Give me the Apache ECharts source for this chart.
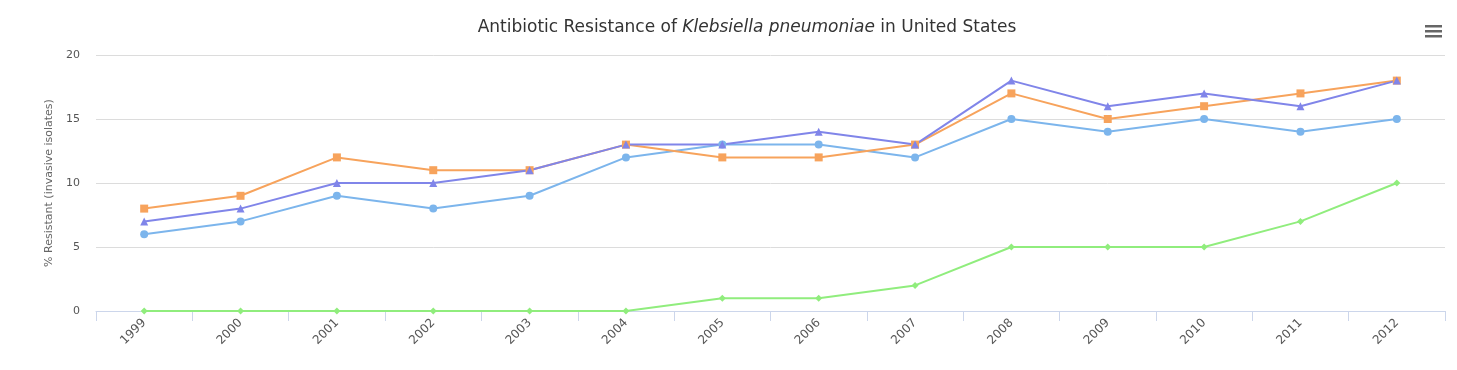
<!DOCTYPE html>
<html><head><meta charset="utf-8">
<script src="https://cdn.jsdelivr.net/npm/echarts@6/dist/echarts.min.js"></script>
<style>html,body{margin:0;padding:0;background:#fff}#c{width:1457px;height:370px}</style>
</head><body><div id="c"></div>
<script>
const categories = ['1999','2000','2001','2002','2003','2004','2005','2006','2007','2008','2009','2010','2011','2012'];
const blueSeries   = [6, 7, 9, 8, 9, 12, 13, 13, 12, 15, 14, 15, 14, 15];
const greenSeries  = [0, 0, 0, 0, 0, 0, 1, 1, 2, 5, 5, 5, 7, 10];
const orangeSeries = [8, 9, 12, 11, 11, 13, 12, 12, 13, 17, 15, 16, 17, 18];
const purpleSeries = [7, 8, 10, 10, 11, 13, 13, 14, 13, 18, 16, 17, 16, 18];
const yTicks = [0, 5, 10, 15, 20];

const FONT = '"DejaVu Sans", sans-serif';
const chart = echarts.init(document.getElementById('c'));
function mk(data, color, symbol, size) {
  return {type:'line', data, symbol, symbolSize:size, showAllSymbol:true,
    lineStyle:{color, width:2}, itemStyle:{color, borderWidth:0}, animation:false};
}
chart.setOption({
  animation:false,
  title:{text:'{n|Antibiotic Resistance of }{i|Klebsiella pneumoniae}{n| in United States}', left:742, top:14, textAlign:'center',
    textStyle:{rich:{n:{fontFamily:FONT,fontSize:17,color:'#333',fontWeight:'normal'}, i:{fontFamily:FONT,fontSize:17,color:'#333',fontStyle:'italic',fontWeight:'normal'}}}},
  grid:{left:96, right:12, top:55, bottom:59},
  xAxis:{type:'category', data:categories, boundaryGap:true,
    axisLine:{lineStyle:{color:'#ccd6eb'}}, axisTick:{show:true, length:10, lineStyle:{color:'#ccd6eb'}},
    axisLabel:{rotate:45, margin:10, fontFamily:FONT, fontSize:12, color:'#555'}},
  yAxis:{type:'value', min:0, max:20, interval:5,
    name:'% Resistant (invasive isolates)', nameLocation:'middle', nameGap:40, nameRotate:90,
    nameTextStyle:{fontFamily:FONT, fontSize:11, color:'#666'},
    axisLine:{show:false}, axisTick:{show:false},
    axisLabel:{fontFamily:FONT, fontSize:11, color:'#555', margin:16, formatter:v=>yTicks.includes(v)?String(v):''},
    splitLine:{lineStyle:{color:'#dcdcdc'}}},
  series:[
    mk(blueSeries,'#7cb5ec','circle',8),
    mk(greenSeries,'#90ed7d','diamond',7),
    mk(orangeSeries,'#f7a35c','rect',8),
    mk(purpleSeries,'#8085e9','triangle',8)
  ],
  graphic:[
    {type:'rect', shape:{x:1425,y:25,width:17,height:2.5}, style:{fill:'#666'}},
    {type:'rect', shape:{x:1425,y:30,width:17,height:2.5}, style:{fill:'#666'}},
    {type:'rect', shape:{x:1425,y:35,width:17,height:2.5}, style:{fill:'#666'}}
  ]
});
</script></body></html>
